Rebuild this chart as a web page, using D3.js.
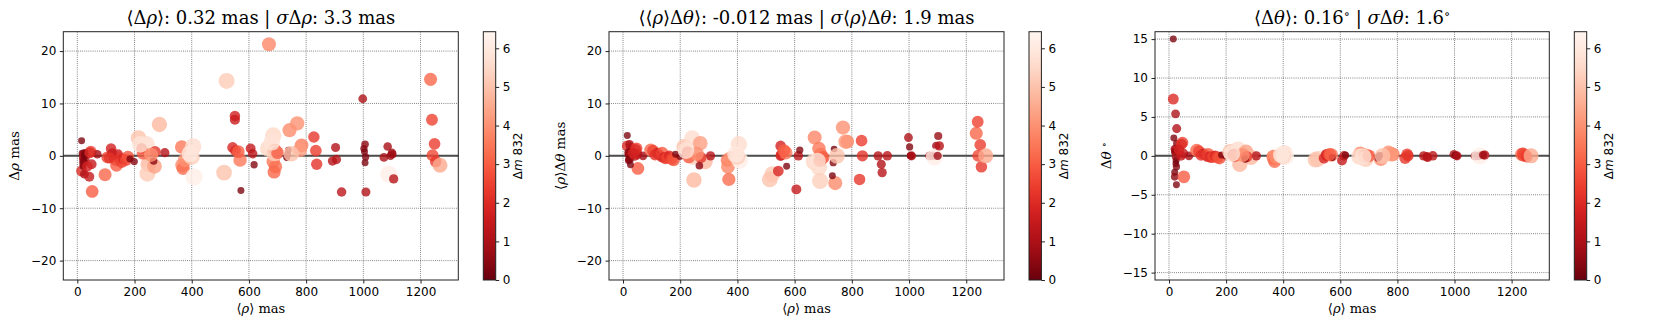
<!DOCTYPE html>
<html>
<head>
<meta charset="utf-8">
<script src="https://cdn.jsdelivr.net/npm/d3@7"></script>
<style>
  body { margin: 0; background: #fff; }
  svg { display: block; }
</style>
</head>
<body>
<div id="chart"></div>
<script>
// one entry per binary, same order in every array
const rho = [
  15, 15, 23, 27, 17, 27, 20, 24, 20, 47, 25, 25, 24, 26, 20, 20, 52, 26, 50, 70, 42, 44, 35,
  97, 105, 118, 122, 128, 135, 137, 142, 148, 155, 162, 170, 177, 184, 199, 112,
  214, 242, 248, 245, 270, 287, 306, 272, 225, 267, 230, 258, 220,
  365, 367, 370, 376, 405, 408, 400, 394,
  522, 513, 551, 551, 543, 553, 569, 572, 563, 606, 613, 618,
  670, 685, 667, 691, 685, 693, 688, 742, 769, 732, 738, 784, 778, 689, 700, 735, 748, 680,
  827, 834, 837, 903, 892, 906, 924,
  998, 1002, 1006, 1004, 1008, 1006, 1009, 1085, 1072, 1095, 1102, 1089, 1106, 1100,
  1235, 1240, 1249, 1242, 1253, 1268
]
const dRho = [
  2.9, -2.9, 0.3, -0.5, 0.5, 0.0, -0.4, 0.2, -1.0, 0.8, -3.5, -1.2, 0.0, 0.6, -2.0, -1.5, -6.8, 0.2, -1.6, 0.3, -4.0, 0.6, -2.0,
  -3.6, -0.3, 1.4, 0.5, -0.5, -0.9, -1.8, 0.3, -0.4, -1.2, -0.6, -0.8, -0.2, -0.6, -1.1, -0.4,
  3.4, 2.2, -1.6, -3.4, -2.0, 6.0, 0.6, 0.8, 1.4, -1.0, 0.5, 0.2, 2.2,
  1.7, -1.8, -2.4, -0.8, 1.8, -4.0, -0.2, 0.4,
  14.3, -3.2, 7.6, 6.9, 1.6, 1.0, -0.8, -6.6, 0.8, 1.4, 0.4, -1.7,
  21.3, 3.9, 1.4, 1.1, -1.1, -2.1, -3.1, 4.9, 6.2, -0.3, 1.1, 2.0, 1.1, 0.5, 0.6, 0.2, 0.4, 2.6,
  3.6, 1.0, -1.6, 1.6, -1.0, -0.7, -6.9,
  10.9, 1.4, 2.2, 0.8, -0.2, -1.3, -6.9, 1.8, -0.3, 0.0, 0.3, -3.5, -4.4, 0.6,
  14.6, 6.9, 2.3, 0.1, -1.1, -1.8
]
const rhoDTheta = [
  3.9, 1.9, 2.2, 1.6, 0.7, 0.8, 0.3, 0.3, 0.2, 1.4, 0.0, -0.3, -0.4, -0.6, -0.7, -0.9, -2.4, -1.7, 0.3, 0.0, 0.0, 1.2, 0.5,
  1.1, 1.0, 0.4, 0.6, 0.2, -0.2, 0.5, -0.3, -0.5, -0.3, 0.0, -0.6, -0.8, 0.3, -0.1, 0.2,
  1.7, 3.3, -4.6, -0.2, 2.4, -1.1, 0.0, -0.3, 0.8, -1.9, -0.2, 0.4, 1.0,
  -0.8, -2.1, -4.5, -0.5, 2.2, -0.8, -0.2, 0.3,
  -3.5, -4.5, 1.9, 0.0, -2.9, 0.2, 0.6, -2.0, 1.0, -6.4, 0.0, 1.1,
  3.5, -2.2, -1.1, 0.3, 1.4, -0.5, -0.9, -5.2, 5.4, -3.8, 1.3, 2.7, 2.7, -4.8, -0.3, -1.3, 0.0, -1.0,
  -4.5, 2.9, 0.0, -1.6, 0.0, -3.2, 0.0,
  3.5, 1.7, 0.0, 0.0, 0.0, 0.0, 0.0, 0.0, 0.0, 1.9, 3.8, -0.2, 1.9, 0.0,
  4.3, 6.5, 2.1, 0.0, -2.1, 0.0
]
const dTheta = [
  15.0, 7.3, 5.4, 3.5, 2.3, 1.6, 0.9, 0.7, 0.5, 1.7, -0.1, -0.6, -1.0, -1.4, -2.1, -2.7, -2.7, -3.7, 0.3, 0.0, 0.0, 1.5, 0.8,
  0.7, 0.6, 0.2, 0.3, 0.1, -0.1, 0.2, -0.1, -0.2, -0.1, 0.0, -0.2, -0.3, 0.1, 0.0, 0.1,
  0.5, 0.8, -1.1, 0.0, 0.5, -0.2, 0.0, -0.1, 0.2, -0.4, 0.0, 0.1, 0.3,
  -0.1, -0.3, -0.7, -0.1, 0.3, -0.1, 0.0, 0.1,
  -0.4, -0.5, 0.2, 0.0, -0.3, 0.1, 0.1, -0.2, 0.2, -0.6, 0.0, 0.1,
  0.3, -0.2, -0.1, 0.0, 0.1, 0.0, -0.1, -0.4, 0.4, -0.3, 0.1, 0.2, 0.2, -0.4, 0.0, -0.1, 0.0, -0.1,
  -0.3, 0.2, 0.0, -0.1, 0.0, -0.2, 0.0,
  0.2, 0.1, 0.0, 0.0, 0.0, 0.0, 0.0, 0.0, 0.0, 0.1, 0.2, 0.0, 0.1, 0.1,
  0.2, 0.3, 0.1, 0.0, -0.1, 0.0
]
const dMag = [
  0.3, 2.0, 1.0, 1.1, 0.3, 0.4, 0.8, 1.2, 0.5, 2.5, 1.0, 0.3, 0.2, 0.4, 0.3, 0.5, 3.0, 0.3, 1.5, 0.9, 1.5, 2.0, 1.8,
  3.2, 2.5, 1.8, 1.5, 1.7, 2.0, 3.0, 1.6, 2.2, 2.5, 1.9, 2.6, 2.8, 0.3, 0.4, 2.2,
  5.0, 5.6, 4.8, 5.2, 4.3, 4.8, 1.2, 2.2, 2.0, 0.5, 3.0, 4.0, 5.8,
  3.5, 3.8, 3.3, 4.0, 5.6, 6.2, 5.3, 6.0,
  5.2, 5.0, 1.8, 1.6, 1.9, 2.0, 3.5, 0.3, 3.0, 1.5, 1.3, 0.4,
  3.8, 5.5, 5.5, 3.3, 3.5, 3.4, 3.2, 3.9, 4.0, 0.3, 0.2, 3.6, 4.2, 5.3, 3.0, 0.4, 5.0, 5.8,
  2.3, 2.4, 2.2, 1.1, 1.2, 1.2, 1.3,
  1.0, 0.4, 0.5, 0.3, 0.4, 0.3, 1.1, 0.9, 1.0, 0.8, 0.7, 6.2, 1.2, 0.8,
  3.2, 2.5, 2.4, 2.6, 2.3, 4.5
]

const xTicks = [0, 200, 400, 600, 800, 1000, 1200]
const masTicks = [-20, -10, 0, 10, 20]
const degTicks = [-15, -10, -5, 0, 5, 10, 15]
const dMagTicks = [0, 1, 2, 3, 4, 5, 6]

const RHO = {t: "ρ", i: true}
const THETA = {t: "θ", i: true}
const SIGMA = {t: "σ", i: true}
const DEG = {t: "∘", sup: true}

const panels = [
  {
    values: dRho, yTicks: masTicks, yMax: 23.7, left: 63.3, width: 395,
    title: ["⟨Δ", RHO, "⟩: 0.32 mas | ", SIGMA, "Δ", RHO, ": 3.3 mas"],
    ylabel: ["Δ", RHO, " mas"]
  },
  {
    values: rhoDTheta, yTicks: masTicks, yMax: 23.7, left: 609, width: 395,
    title: ["⟨⟨", RHO, "⟩Δ", THETA, "⟩: -0.012 mas | ", SIGMA, "⟨", RHO, "⟩Δ", THETA, ": 1.9 mas"],
    ylabel: ["⟨", RHO, "⟩Δ", THETA, " mas"]
  },
  {
    values: dTheta, yTicks: degTicks, yMax: 15.95, left: 1155, width: 394.3,
    title: ["⟨Δ", THETA, "⟩: 0.16", DEG, " | ", SIGMA, "Δ", THETA, ": 1.6", DEG],
    ylabel: ["Δ", THETA, " ", DEG]
  }
]

const W = 1661
const H = 332
const TOP = 31.7
const BOTTOM = 280
const SERIF = "'DejaVu Serif', serif"
const SANS = "'DejaVu Sans', sans-serif"

const color = d3.scaleSequential(t => d3.interpolateReds(1 - t)).domain([0, 6.43])
const radius = m => Math.sqrt(9 + 10.5 * m)

const svg = d3.select("#chart").append("svg")
  .attr("width", W)
  .attr("height", H)
  .style("background", "#fff")

const defs = svg.append("defs")
const grad = defs.append("linearGradient")
  .attr("id", "cbar")
  .attr("x1", 0).attr("y1", 1).attr("x2", 0).attr("y2", 0)
d3.range(0, 1.0001, 0.05).forEach(t => {
  grad.append("stop")
    .attr("offset", t)
    .attr("stop-color", color(t * 6.43))
})

// writes mathtext-ish pieces as tspans
function richText (sel, segs) {
  let raised = false
  segs.forEach(s => {
    const seg = typeof s === "string" ? {t: s} : s
    const ts = sel.append("tspan").text(seg.t)
    if (seg.i) ts.style("font-style", "italic")
    if (seg.sup) {
      ts.attr("dy", "-0.45em").style("font-size", "0.7em")
      raised = true
    } else if (raised) {
      ts.attr("dy", "0.315em")
      raised = false
    }
  })
  return sel
}

panels.forEach((p, idx) => {
  const right = p.left + p.width
  const x = d3.scaleLinear().domain([-49, 1332]).range([p.left, right])
  const y = d3.scaleLinear().domain([-p.yMax, p.yMax]).range([BOTTOM, TOP])

  const g = svg.append("g").attr("class", "panel-" + idx)

  defs.append("clipPath").attr("id", "clip" + idx)
    .append("rect")
    .attr("x", p.left).attr("y", TOP)
    .attr("width", p.width).attr("height", BOTTOM - TOP)

  // grid
  const grid = g.append("g").attr("class", "grid")
    .attr("stroke", "#222")
    .attr("stroke-opacity", 0.85)
    .attr("stroke-width", 0.8)
    .attr("stroke-dasharray", "0.8,1.3")
  grid.selectAll(".gx").data(xTicks).enter().append("line")
    .attr("x1", d => x(d)).attr("x2", d => x(d))
    .attr("y1", TOP).attr("y2", BOTTOM)
  grid.selectAll(".gy").data(p.yTicks).enter().append("line")
    .attr("x1", p.left).attr("x2", right)
    .attr("y1", d => y(d)).attr("y2", d => y(d))

  // zero line
  g.append("line")
    .attr("x1", p.left).attr("x2", right)
    .attr("y1", y(0)).attr("y2", y(0))
    .attr("stroke", "#4d4d4d")
    .attr("stroke-width", 2)

  // points
  g.append("g")
    .attr("clip-path", `url(#clip${idx})`)
    .selectAll("circle")
    .data(rho.map((r, i) => ({r, v: p.values[i], m: dMag[i]})))
    .enter().append("circle")
    .attr("cx", d => x(d.r))
    .attr("cy", d => y(d.v))
    .attr("r", d => radius(d.m))
    .attr("fill", d => color(d.m))
    .attr("fill-opacity", 0.8)

  // frame
  g.append("rect")
    .attr("x", p.left).attr("y", TOP)
    .attr("width", p.width).attr("height", BOTTOM - TOP)
    .attr("fill", "none")
    .attr("stroke", "#222")
    .attr("stroke-width", 1)

  const xAxis = g.append("g")
    .attr("transform", `translate(0,${BOTTOM})`)
    .call(d3.axisBottom(x).tickValues(xTicks).tickSize(3.5).tickPadding(3.5).tickFormat(d3.format("d")))
  const yAxis = g.append("g")
    .attr("transform", `translate(${p.left},0)`)
    .call(d3.axisLeft(y).tickValues(p.yTicks).tickSize(3.5).tickPadding(3.5))
  ;[xAxis, yAxis].forEach(a => {
    a.select(".domain").remove()
    a.selectAll("line").attr("stroke", "#222")
    a.selectAll("text")
      .attr("fill", "#000")
      .style("font-family", SANS)
      .style("font-size", "12px")
  })

  // title and labels
  richText(g.append("text")
    .attr("x", (p.left + right) / 2)
    .attr("y", 24)
    .attr("text-anchor", "middle")
    .style("font-family", SERIF)
    .style("font-size", "18px"), p.title)

  richText(g.append("text")
    .attr("x", (p.left + right) / 2)
    .attr("y", 313)
    .attr("text-anchor", "middle")
    .style("font-family", SERIF)
    .style("font-size", "13px"), ["⟨", RHO, "⟩ mas"])

  richText(g.append("text")
    .attr("transform", `translate(${p.left - 44},${(TOP + BOTTOM) / 2}) rotate(-90)`)
    .attr("text-anchor", "middle")
    .style("font-family", SERIF)
    .style("font-size", "13.5px"), p.ylabel)

  // colorbar
  const cbX = right + 25
  const cbW = 12.4
  const cb = g.append("g").attr("class", "colorbar")
  const cy = d3.scaleLinear().domain([0, 6.43]).range([BOTTOM, TOP])
  cb.append("rect")
    .attr("x", cbX).attr("y", TOP)
    .attr("width", cbW).attr("height", BOTTOM - TOP)
    .attr("fill", "url(#cbar)")
    .attr("stroke", "#222")
    .attr("stroke-width", 1)
  const cbAxis = cb.append("g")
    .attr("transform", `translate(${cbX + cbW},0)`)
    .call(d3.axisRight(cy).tickValues(dMagTicks).tickSize(3.5).tickPadding(3.5).tickFormat(d3.format("d")))
  cbAxis.select(".domain").remove()
  cbAxis.selectAll("line").attr("stroke", "#222")
  cbAxis.selectAll("text")
    .attr("fill", "#000")
    .style("font-family", SANS)
    .style("font-size", "12px")
  richText(cb.append("text")
    .attr("transform", `translate(${cbX + 35},${(TOP + BOTTOM) / 2}) rotate(-90)`)
    .attr("text-anchor", "middle")
    .attr("dominant-baseline", "middle")
    .style("font-family", SANS)
    .style("font-size", "12px"), ["Δ", {t: "m", i: true}, " 832"])
})
</script>
</body>
</html>
